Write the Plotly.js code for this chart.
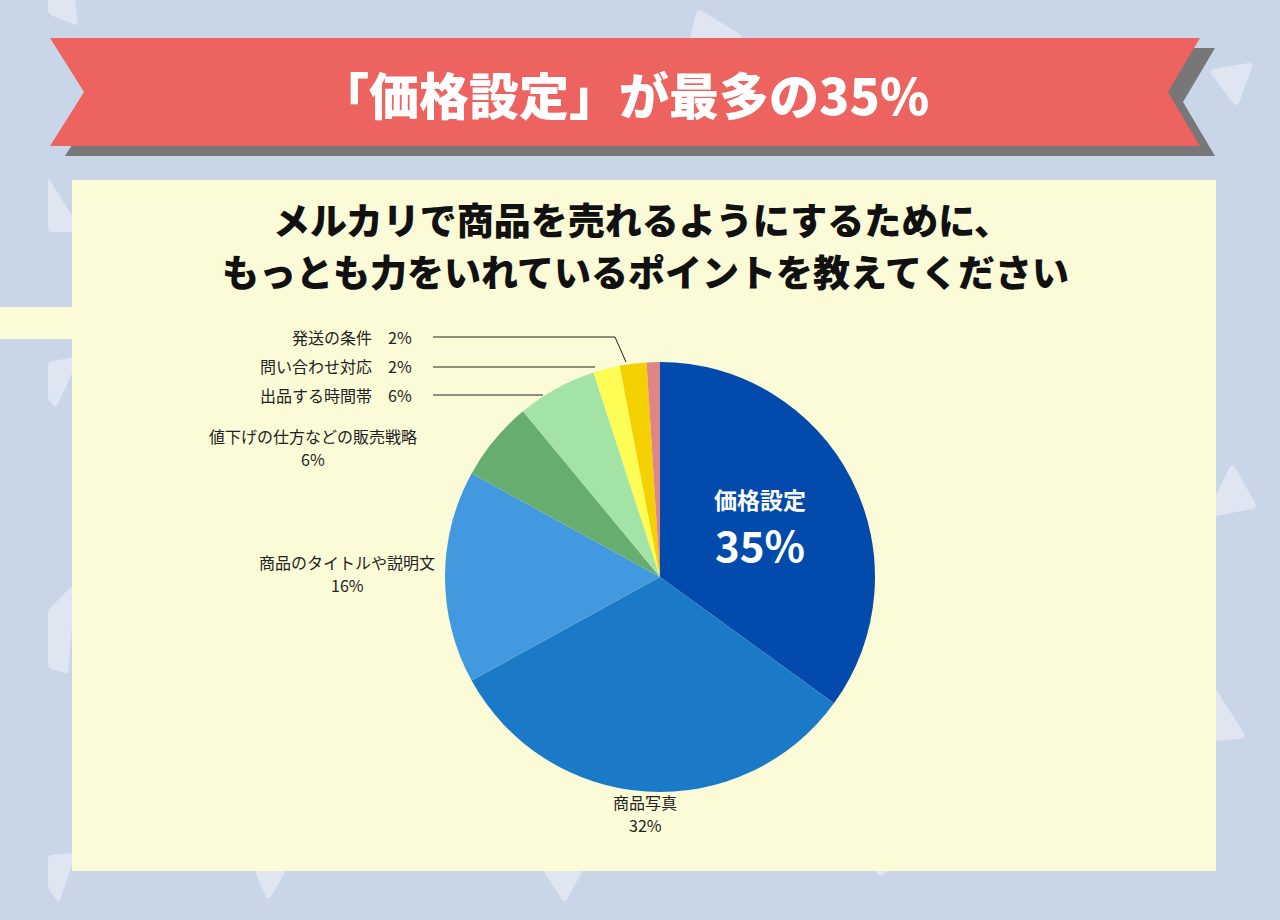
<!DOCTYPE html>
<html><head><meta charset="utf-8">
<script src="https://cdn.plot.ly/plotly-3.0.1.min.js"></script>
<style>html,body{margin:0;padding:0;background:#c9d6e7}</style>
</head><body><div id="chart" style="width:1280px;height:920px"></div>
<script>
// ---- data ----
const labels = ['価格設定', '商品写真', '商品のタイトルや説明文', '値下げの仕方などの販売戦略', '出品する時間帯', '問い合わせ対応', '発送の条件', 'その他'];
const values = [35, 32, 16, 6, 6, 2, 2, 1];
const sliceColors = ['#034aad', '#1a7ac7', '#4399df', '#67ad6f', '#a3e3a6', '#fdfd55', '#f4d000', '#e08585'];
const bannerText = '「価格設定」が最多の35%';
const titleLines = ['メルカリで商品を売れるようにするために、', 'もっとも力をいれているポイントを教えてください'];

// ---- layout helpers ----
const W = 1280, H = 920;
const FONT = '"Noto Sans CJK JP", "Noto Sans", sans-serif';
const X = x => x / W, Y = y => 1 - y / H;
function poly(pts) { return 'M' + pts.map(p => X(p[0]) + ',' + Y(p[1])).join('L') + 'Z'; }
function rounded(pts, r) {
  const n = pts.length; let d = '';
  for (let i = 0; i < n; i++) {
    const v = pts[i], p0 = pts[(i - 1 + n) % n], p2 = pts[(i + 1) % n];
    const l0 = Math.hypot(p0[0] - v[0], p0[1] - v[1]), l2 = Math.hypot(p2[0] - v[0], p2[1] - v[1]);
    const a = [v[0] + (p0[0] - v[0]) * r / l0, v[1] + (p0[1] - v[1]) * r / l0];
    const b = [v[0] + (p2[0] - v[0]) * r / l2, v[1] + (p2[1] - v[1]) * r / l2];
    d += (i === 0 ? 'M' : 'L') + X(a[0]) + ',' + Y(a[1]) + 'Q' + X(v[0]) + ',' + Y(v[1]) + ' ' + X(b[0]) + ',' + Y(b[1]);
  }
  return d + 'Z';
}
const LIGHT = '#dfe6f1';
const shapes = [];
function addPath(path, fill, layer) {
  shapes.push({type: 'path', xref: 'paper', yref: 'paper', path: path, fillcolor: fill, line: {width: 0}, layer: layer || 'below'});
}
// background triangles
[
  [[48, -25], [72, -25], [78, 26], [48, 14]],
  [[48, 177], [74, 219], [74, 232], [48, 232]],
  [[48, 362], [80, 356], [56, 408], [48, 400]],
  [[48, 610], [76, 582], [68, 674], [48, 668]],
  [[48, 855], [76, 853], [59, 903], [48, 888]]
].forEach(p => addPath(rounded(p, 4), LIGHT));
[
  [[697, 8], [745, 37], [685, 62]],
  [[1208, 70], [1254, 62], [1237, 108]],
  [[1232, 462], [1258, 508], [1205, 518]],
  [[1214, 686], [1247, 738], [1205, 742]],
  [[250, 860], [292, 860], [268, 902]],
  [[536, 860], [588, 860], [565, 904]],
  [[868, 860], [900, 860], [880, 878]]
].forEach(p => addPath(rounded(p, 7), LIGHT));
// yellow panel + left strip
addPath(poly([[0, 307], [72, 307], [72, 339], [0, 339]]), '#fcfbd8');
addPath(poly([[72, 180], [1216, 180], [1216, 871], [72, 871]]), '#fcfbd8');
// banner
const ribbon = [[50, 38], [1200, 38], [1168, 92], [1200, 146], [50, 146], [84, 92]];
addPath(poly(ribbon.map(p => [p[0] + 15, p[1] + 10])), '#777777');
addPath(poly(ribbon), '#ec6360');
// leader lines
function line(pts) {
  shapes.push({type: 'path', xref: 'paper', yref: 'paper', layer: 'above',
    path: 'M' + pts.map(p => X(p[0]) + ',' + Y(p[1])).join('L'), line: {color: '#222222', width: 1}});
}
line([[433, 337], [615, 337], [626, 362]]);
line([[433, 367], [595, 367]]);
line([[433, 395], [543, 395]]);

// ---- annotations ----
const annotations = [];
function txt(text, x, y, size, opts) {
  annotations.push(Object.assign({text: text, x: X(x), y: Y(y), xref: 'paper', yref: 'paper', showarrow: false,
    xanchor: 'center', yanchor: 'middle', font: {family: FONT, size: size, color: '#222222'}}, opts || {}));
}
txt(bannerText, 624, 93, 50, {font: {family: FONT, size: 50, color: '#ffffff', weight: 900}});
txt(titleLines[1], 645, 271, 37, {font: {family: FONT, size: 37, color: '#111111', weight: 900}});
[[6, 337], [5, 366], [4, 395]].forEach(([i, y]) => txt(labels[i] + '　' + values[i] + '%', 414, y, 16, {xanchor: 'right'}));
[[3, 313, 436], [2, 347, 562], [1, 645, 802]].forEach(([i, x, y]) => {
  txt(labels[i], x, y, 16);
  txt(values[i] + '%', x, y + 23, 16);
});
txt(labels[0], 760, 499, 23, {font: {family: FONT, size: 23, color: '#ffffff', weight: 'bold'}});
txt(values[0] + '%', 760, 543, 42, {font: {family: FONT, size: 42, color: '#ffffff', weight: 'bold'}});

// ---- chart ----
const trace = {
  type: 'pie', labels: labels, values: values, sort: false, direction: 'clockwise', rotation: 0,
  marker: {colors: sliceColors, line: {width: 0}}, textinfo: 'none', hoverinfo: 'none', showlegend: false,
  domain: {x: [X(445), X(875)], y: [Y(792), Y(362)]}
};
const layout = {
  width: W, height: H, margin: {l: 0, r: 0, t: 0, b: 0},
  paper_bgcolor: '#c9d6e7', plot_bgcolor: 'rgba(0,0,0,0)',
  font: {family: FONT},
  title: {text: titleLines[0], x: 642 / W, xanchor: 'center', xref: 'container', y: 1 - 222 / H, yref: 'container', yanchor: 'middle',
    font: {family: FONT, size: 37, color: '#111111', weight: 900}},
  shapes: shapes, annotations: annotations
};
Plotly.newPlot('chart', [trace], layout, {displayModeBar: false, staticPlot: true});
</script></body></html>
